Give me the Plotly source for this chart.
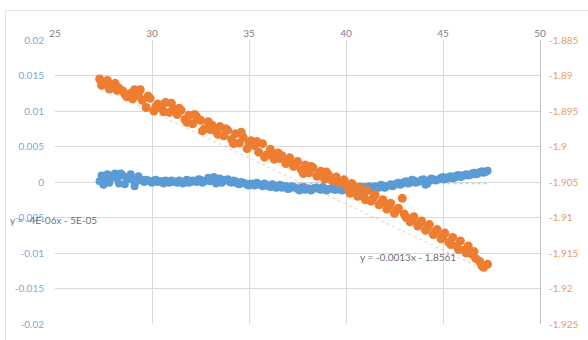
import plotly.graph_objects as go

# ---------------- data ----------------
blue_x_a = [27.3, 27.5, 27.7, 27.9, 28.1, 28.3, 28.5, 28.7, 28.9, 29.1, 29.3, 29.5, 29.7, 29.9,
            30.1, 30.3, 30.5, 30.7, 30.9, 31.1, 31.3, 31.5, 31.7, 31.9, 32.1, 32.3, 32.5, 32.7, 32.9,
            33.1, 33.3, 33.5, 33.7, 33.9, 34.1, 34.3, 34.5, 34.7, 34.9, 35.1, 35.3, 35.5, 35.7, 35.9,
            36.1, 36.3, 36.5, 36.7, 36.9, 37.1, 37.3, 37.5, 37.7, 37.9, 38.1, 38.3, 38.5, 38.7, 38.9,
            39.1, 39.3, 39.5, 39.7, 39.9, 40.1, 40.3, 40.5, 40.7, 40.9, 41.1, 41.3, 41.5, 41.7, 41.9,
            42.1, 42.3, 42.5, 42.7, 42.9, 43.1, 43.3, 43.5, 43.7, 43.9, 44.1, 44.3, 44.5, 44.7, 44.9,
            45.1, 45.3, 45.5, 45.7, 45.9, 46.1, 46.3, 46.5, 46.7, 46.9, 47.1, 47.3]
blue_y_a = [0.0001, -0.0004, 0.0011, 0.0006, 0.0012, -0.0002, 0.0009, 0.0004, 0.0011, -0.0006,
            0.0008, 0.0002, 0.0003, 0.0001, 0.0002, 0.0000, 0.0001, 0.0002, -0.0001, 0.0001,
            -0.0001, 0.0000, 0.0001, -0.0001, 0.0002, 0.0000, 0.0003, 0.0001, 0.0006, 0.0004,
            -0.0002, 0.0005, 0.0002, 0.0004, -0.0001, 0.0001, -0.0003, -0.0001, -0.0004, -0.0002,
            -0.0005, -0.0003, -0.0006, -0.0004, -0.0007, -0.0005, -0.0006, -0.0008, -0.0006, -0.0009,
            -0.0007, -0.0010, -0.0008, -0.0011, -0.0009, -0.0010, -0.0008, -0.0011, -0.0009, -0.0010,
            -0.0008, -0.0011, -0.0009, -0.0010, -0.0007, -0.0009, -0.0008, -0.0010, -0.0007, -0.0009,
            -0.0008, -0.0006, -0.0008, -0.0005, -0.0006, -0.0003, -0.0004, -0.0001, -0.0002, 0.0001,
            -0.0001, 0.0002, 0.0000, 0.0003, -0.0004, 0.0002, 0.0004, 0.0003, 0.0006, 0.0004,
            0.0007, 0.0005, 0.0009, 0.0007, 0.0010, 0.0009, 0.0012, 0.0011, 0.0014, 0.0013, 0.0016]

blue_x_b = [27.4, 27.6, 27.8, 28.0, 28.2, 28.4, 28.6, 28.8, 29.0, 29.2, 29.4, 29.6, 29.8, 30.0,
            30.2, 30.4, 30.6, 30.8, 31.0, 31.2, 31.4, 31.6, 31.8, 32.0, 32.2, 32.4, 32.6, 32.8, 33.0,
            33.2, 33.4, 33.6, 33.8, 34.0, 34.2, 34.4, 34.6, 34.8, 35.0, 35.2, 35.4, 35.6, 35.8, 36.0,
            36.2, 36.4, 36.6, 36.8, 37.0, 37.2, 37.4, 37.6, 37.8, 38.0, 38.2, 38.4, 38.6, 38.8, 39.0,
            39.2, 39.4, 39.6, 39.8, 40.0, 40.2, 40.4, 40.6, 40.8, 41.0, 41.2, 41.4, 41.6, 41.8, 42.0,
            42.2, 42.4, 42.6, 42.8, 43.0, 43.2, 43.4, 43.6, 43.8, 44.0, 44.2, 44.4, 44.6, 44.8, 45.0,
            45.2, 45.4, 45.6, 45.8, 46.0, 46.2, 46.4, 46.6, 46.8, 47.0, 47.2]
blue_y_b = [0.0009, 0.0003, -0.0001, 0.0010, 0.0005, 0.0012, -0.0003, 0.0007, 0.0003, 0.0001,
            0.0004, 0.0000, 0.0002, -0.0001, 0.0003, 0.0001, -0.0002, 0.0000, 0.0002, 0.0000,
            0.0002, -0.0002, 0.0003, 0.0000, 0.0001, 0.0004, -0.0001, 0.0002, 0.0001, 0.0007,
            0.0001, -0.0001, 0.0003, 0.0000, 0.0002, -0.0002, 0.0000, -0.0002, -0.0005, -0.0003,
            -0.0001, -0.0004, -0.0002, -0.0006, -0.0003, -0.0008, -0.0004, -0.0006, -0.0010, -0.0006,
            -0.0008, -0.0012, -0.0007, -0.0009, -0.0012, -0.0008, -0.0010, -0.0007, -0.0012, -0.0009,
            -0.0011, -0.0007, -0.0012, -0.0008, -0.0011, -0.0006, -0.0010, -0.0008, -0.0011, -0.0006,
            -0.0009, -0.0007, -0.0004, -0.0008, -0.0005, -0.0006, -0.0002, -0.0004, 0.0000, -0.0002,
            0.0003, -0.0001, 0.0001, 0.0004, -0.0002, 0.0005, 0.0002, 0.0004, 0.0007, 0.0005,
            0.0008, 0.0006, 0.0010, 0.0008, 0.0011, 0.0010, 0.0013, 0.0012, 0.0015, 0.0014]

orange_x_a = [27.3, 27.5, 27.7, 27.9, 28.1, 28.3, 28.5, 28.7, 28.9, 29.1, 29.3, 29.5, 29.7, 29.9,
              30.1, 30.3, 30.5, 30.7, 30.9, 31.1, 31.3, 31.5, 31.7, 31.9, 32.1, 32.3, 32.5, 32.7, 32.9,
              33.1, 33.3, 33.5, 33.7, 33.9, 34.1, 34.3, 34.5, 34.7, 34.9, 35.1, 35.3, 35.5, 35.7, 35.9,
              36.1, 36.3, 36.5, 36.7, 36.9, 37.1, 37.3, 37.5, 37.7, 37.9, 38.1, 38.3, 38.5, 38.7, 38.9,
              39.1, 39.3, 39.5, 39.7, 39.9, 40.1, 40.3, 40.5, 40.7, 40.9, 41.1, 41.3, 41.5, 41.7, 41.9,
              42.1, 42.3, 42.5, 42.7, 42.9, 43.1, 43.3, 43.5, 43.7, 43.9, 44.1, 44.3, 44.5, 44.7, 44.9,
              45.1, 45.3, 45.5, 45.7, 45.9, 46.1, 46.3, 46.5, 46.7, 46.9, 47.1, 47.3]
orange_y_a = [-1.8905, -1.8911, -1.8907, -1.8915, -1.8911, -1.8918, -1.8922, -1.8930, -1.8925, -1.8920,
              -1.8928, -1.8935, -1.8945, -1.8932, -1.8950, -1.8940, -1.8946, -1.8938, -1.8952, -1.8947,
              -1.8955, -1.8949, -1.8962, -1.8956, -1.8968, -1.8958, -1.8963, -1.8975, -1.8965, -1.8970,
              -1.8979, -1.8972, -1.8985, -1.8977, -1.8990, -1.8982, -1.8995, -1.8987, -1.9003, -1.8992,
              -1.8999, -1.9008, -1.8996, -1.9012, -1.9004, -1.9018, -1.9009, -1.9013, -1.9024, -1.9016,
              -1.9028, -1.9021, -1.9033, -1.9026, -1.9037, -1.9030, -1.9042, -1.9035, -1.9046, -1.9040,
              -1.9048, -1.9043, -1.9052, -1.9047, -1.9058, -1.9052, -1.9063, -1.9057, -1.9070, -1.9062,
              -1.9077, -1.9068, -1.9082, -1.9075, -1.9088, -1.9080, -1.9094, -1.9087, -1.9073, -1.9100,
              -1.9106, -1.9099, -1.9112, -1.9105, -1.9118, -1.9110, -1.9124, -1.9117, -1.9130, -1.9122,
              -1.9135, -1.9128, -1.9140, -1.9133, -1.9146, -1.9140, -1.9152, -1.9158, -1.9162, -1.9170,
              -1.9166]

orange_x_b = [27.4, 27.8, 28.2, 28.6, 29.0, 29.4, 29.8, 30.2, 30.6, 31.0, 31.4, 31.8, 32.2, 32.6,
              33.0, 33.4, 33.8, 34.2, 34.6, 35.0, 35.4, 35.8, 36.2, 36.6, 37.0, 37.4, 37.8, 38.2,
              38.6, 39.0, 39.4, 39.8, 40.2, 40.6, 41.0, 41.4, 41.8, 42.2, 42.6, 43.0, 43.4, 43.8,
              44.2, 44.6, 45.0, 45.4, 45.8, 46.2, 46.6, 47.0]
orange_y_b = [-1.8914, -1.8919, -1.8921, -1.8926, -1.8933, -1.8920, -1.8929, -1.8944, -1.8951, -1.8939,
              -1.8946, -1.8966, -1.8955, -1.8978, -1.8976, -1.8983, -1.8975, -1.8996, -1.8980, -1.8995,
              -1.8993, -1.9015, -1.9012, -1.9017, -1.9021, -1.9025, -1.9038, -1.9028, -1.9039, -1.9036,
              -1.9047, -1.9051, -1.9066, -1.9070, -1.9075, -1.9072, -1.9079, -1.9084, -1.9090, -1.9095,
              -1.9103, -1.9108, -1.9114, -1.9120, -1.9126, -1.9138, -1.9145, -1.9150, -1.9148, -1.9168]

# trendline coefficients (slope, intercept) as displayed
blue_trend = [-4e-06, -5e-05]
orange_trend = [-0.0013, -1.8561]
blue_label = "y = -4E-06x - 5E-05"
orange_label = "y = -0.0013x - 1.8561"

x_ticks = [25, 30, 35, 40, 45, 50]
left_ticks = [0.02, 0.015, 0.01, 0.005, 0, -0.005, -0.01, -0.015, -0.02]
left_text = ["0.02", "0.015", "0.01", "0.005", "0", "-0.005", "-0.01", "-0.015", "-0.02"]
right_ticks = [-1.885, -1.89, -1.895, -1.9, -1.905, -1.91, -1.915, -1.92, -1.925]
right_text = ["-1.885", "-1.89", "-1.895", "-1.9", "-1.905", "-1.91", "-1.915", "-1.92", "-1.925"]

BLUE = "#5B9BD5"
ORANGE = "#ED7D31"
FONT = "Lato"

blue_x = blue_x_a + blue_x_b
blue_y = blue_y_a + blue_y_b
orange_x = orange_x_a + orange_x_b
orange_y = orange_y_a + orange_y_b

fig = go.Figure()

# trendlines
bx = [min(blue_x), max(blue_x)]
fig.add_trace(go.Scatter(x=bx, y=[blue_trend[0] * v + blue_trend[1] for v in bx],
                         mode="lines", line=dict(color=BLUE, width=1.2, dash="dot"),
                         opacity=0.45, showlegend=False, hoverinfo="skip"))
ox = [min(orange_x), max(orange_x)]
fig.add_trace(go.Scatter(x=ox, y=[orange_trend[0] * v + orange_trend[1] for v in ox],
                         mode="lines", line=dict(color=ORANGE, width=1.2, dash="dot"),
                         opacity=0.3, showlegend=False, hoverinfo="skip", yaxis="y2"))

fig.add_trace(go.Scatter(x=blue_x, y=blue_y, mode="markers",
                         marker=dict(color=BLUE, size=8), showlegend=False))
fig.add_trace(go.Scatter(x=orange_x, y=orange_y, mode="markers", yaxis="y2",
                         marker=dict(color=ORANGE, size=9), showlegend=False))

fig.update_layout(
    width=588, height=340,
    margin=dict(l=55, r=44, t=40, b=10),
    paper_bgcolor="white", plot_bgcolor="white",
    font=dict(family=FONT, size=10, color="#808080"),
    xaxis=dict(range=[25, 50], side="top", tickvals=x_ticks,
               showgrid=True, gridcolor="#D9D9D9", gridwidth=1,
               zeroline=False, showline=False, ticks="",
               tickfont=dict(color="#808080", size=10, family=FONT)),
    yaxis=dict(range=[-0.02, 0.02], tickvals=left_ticks, ticktext=left_text,
               showgrid=True, gridcolor="#D9D9D9", zeroline=False, showline=False,
               ticks="outside", ticklen=8, tickcolor="rgba(0,0,0,0)",
               tickfont=dict(color="#7FA7D8", size=10, family=FONT)),
    yaxis2=dict(range=[-1.925, -1.885], overlaying="y", side="right",
                tickvals=right_ticks, ticktext=right_text,
                showgrid=False, zeroline=False, showline=True, linecolor="#BFBFBF",
                ticks="outside", ticklen=6, tickcolor="rgba(0,0,0,0)",
                tickfont=dict(color="#EE9A62", size=10, family=FONT)),
    annotations=[
        dict(text=blue_label, xref="paper", yref="paper", x=(8 - 55) / 489, y=(330 - 224) / 290,
             xanchor="left", yanchor="middle", showarrow=False,
             font=dict(color="#707070", size=10, family=FONT)),
        dict(text=orange_label, xref="paper", yref="paper", x=(360 - 55) / 489, y=(330 - 262) / 290,
             xanchor="left", yanchor="middle", showarrow=False,
             font=dict(color="#707070", size=10, family=FONT)),
    ],
    shapes=[dict(type="rect", xref="paper", yref="paper",
                 x0=(5 - 55) / 489, x1=(640 - 55) / 489,
                 y0=(330 - 400) / 290, y1=(330 - 10) / 290,
                 line=dict(color="#E0E0E0", width=1), layer="below")],
)

fig.write_html("out.html")
